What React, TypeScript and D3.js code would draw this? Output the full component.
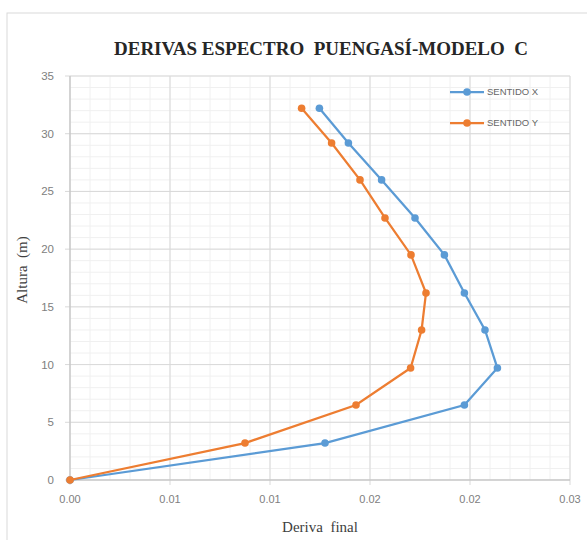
import React from "react";
import * as d3 from "d3";

const heights = [0, 3.2, 6.5, 9.7, 13.0, 16.2, 19.5, 22.7, 26.0, 29.2, 32.2];
const sentidoX = [0, 0.01275, 0.01972, 0.02137, 0.02075, 0.01972, 0.01872, 0.01725, 0.01558, 0.01392, 0.01247];
const sentidoY = [0, 0.00875, 0.0143, 0.01703, 0.01758, 0.0178, 0.01705, 0.01575, 0.0145, 0.01308, 0.01158];
const xTicks = [0, 0.005, 0.01, 0.015, 0.02, 0.025];
const xTickLabels = ["0.00", "0.01", "0.01", "0.02", "0.02", "0.03"];
const yTicks = [0, 5, 10, 15, 20, 25, 30, 35];
const seriesNames = ["SENTIDO X", "SENTIDO Y"];
const colors = ["#5b9bd5", "#ed7d31"];

const W = 587, H = 540;
const L = 70, R = 570, T = 76, B = 480;

export default function App() {
  const x = d3.scaleLinear().domain([0, 0.025]).range([L, R]);
  const y = d3.scaleLinear().domain([0, 35]).range([B, T]);
  const minorX = d3.range(0, 0.0250001, 0.001);
  const minorY = d3.range(0, 35.0001, 1);
  const line = d3
    .line<[number, number]>()
    .x((d) => x(d[0]))
    .y((d) => y(d[1]));
  const series = [sentidoX, sentidoY].map((vals) =>
    vals.map((v, i) => [v, heights[i]] as [number, number])
  );
  const sans = "'Liberation Sans', Arial, sans-serif";
  const serif = "'Liberation Serif', 'Times New Roman', serif";
  const pre = { whiteSpace: "pre" as const };

  return (
    <svg
      width={W}
      height={H}
      style={{ position: "absolute", left: 0, top: 0, background: "#fff" }}
    >
      <rect x={7} y={13} width={600} height={600} fill="#fff" stroke="#d9d9d9" strokeWidth={1} />
      {minorX.map((v, i) => (
        <line key={"mx" + i} x1={x(v)} x2={x(v)} y1={T} y2={B} stroke="#f0f0f0" strokeWidth={1} />
      ))}
      {minorY.map((v, i) => (
        <line key={"my" + i} x1={L} x2={R} y1={y(v)} y2={y(v)} stroke="#f0f0f0" strokeWidth={1} />
      ))}
      {xTicks.map((v, i) => (
        <line key={"gx" + i} x1={x(v)} x2={x(v)} y1={T} y2={B + 5} stroke="#d9d9d9" strokeWidth={1} />
      ))}
      {yTicks.map((v, i) => (
        <line key={"gy" + i} x1={L - 5} x2={R} y1={y(v)} y2={y(v)} stroke="#d9d9d9" strokeWidth={1} />
      ))}
      <line x1={L} x2={L} y1={T} y2={B} stroke="#bfbfbf" />
      <line x1={L} x2={R} y1={B} y2={B} stroke="#bfbfbf" />
      {yTicks.map((v, i) => (
        <text key={"ty" + i} x={54} y={y(v)} dy="0.35em" textAnchor="end" fontFamily={sans} fontSize={11.5} fill="#808080">
          {v}
        </text>
      ))}
      {xTicks.map((v, i) => (
        <text key={"tx" + i} x={x(v)} y={503} textAnchor="middle" fontFamily={sans} fontSize={11} fill="#808080">
          {xTickLabels[i]}
        </text>
      ))}
      <text x={321} y={55} textAnchor="middle" fontFamily={serif} fontWeight="bold" fontSize={19} fill="#262626" style={pre}>
        {"DERIVAS ESPECTRO  PUENGASÍ-MODELO  C"}
      </text>
      <text x={320} y={532} textAnchor="middle" fontFamily={serif} fontSize={15} fill="#404040" style={pre}>
        {"Deriva  final"}
      </text>
      <text
        transform="translate(27,270) rotate(-90)"
        textAnchor="middle"
        fontFamily={serif}
        fontSize={15}
        fill="#404040"
        style={pre}
      >
        {"Altura  (m)"}
      </text>
      {series.map((s, k) => (
        <g key={"s" + k}>
          <path d={line(s) || ""} fill="none" stroke={colors[k]} strokeWidth={2.25} />
          {s.map((d, i) => (
            <circle key={i} cx={x(d[0])} cy={y(d[1])} r={3.8} fill={colors[k]} />
          ))}
        </g>
      ))}
      {seriesNames.map((n, k) => (
        <g key={"lg" + k} transform={`translate(0, ${92 + k * 31})`}>
          <line x1={450} x2={484} y1={0} y2={0} stroke={colors[k]} strokeWidth={2.25} />
          <circle cx={467} cy={0} r={3.8} fill={colors[k]} />
          <text x={487} y={0} dy="0.35em" fontFamily={sans} fontSize={9.5} fill="#666">
            {n}
          </text>
        </g>
      ))}
    </svg>
  );
}
